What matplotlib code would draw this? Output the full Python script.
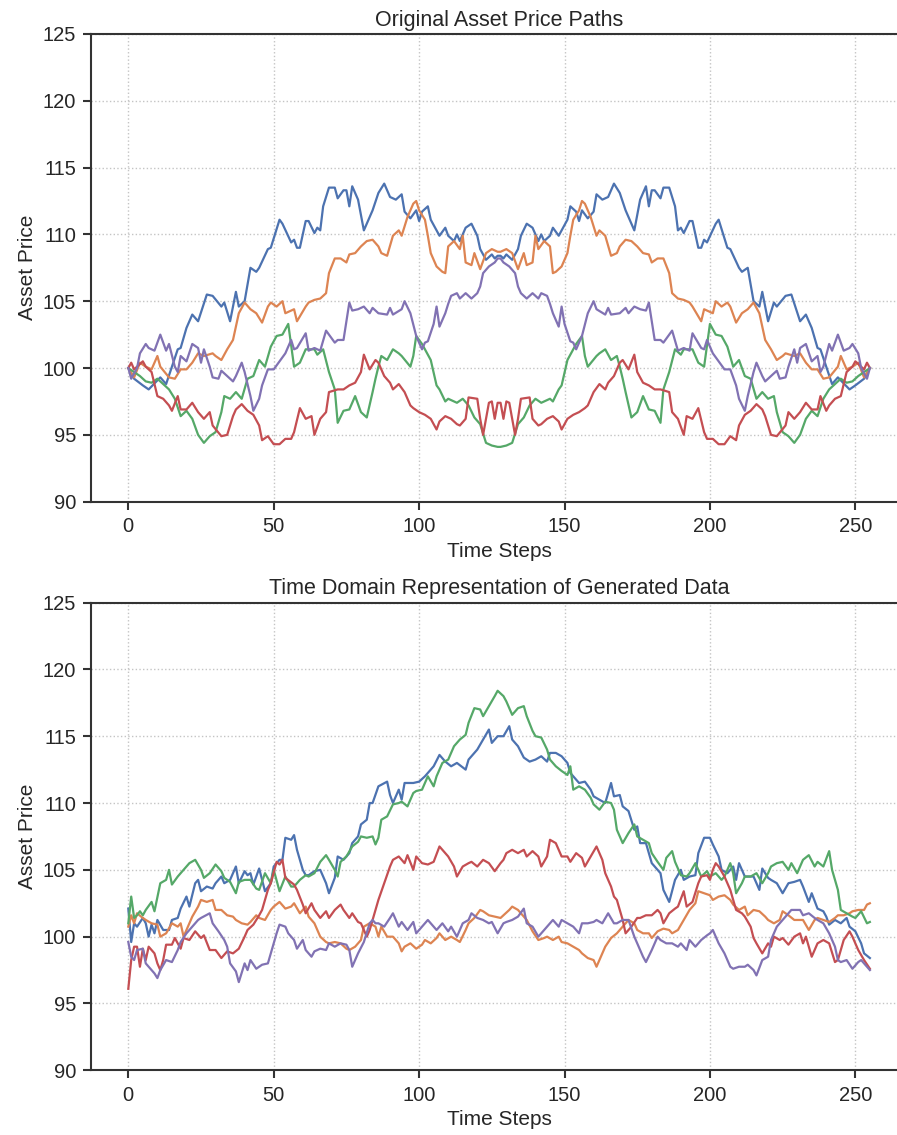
import numpy as np
import matplotlib.pyplot as plt

plt.rcParams['font.family'] = ['Liberation Sans', 'DejaVu Sans']

# original paths: (step, price) for steps 0..127, the second half is the same path run backwards
orig_blue_half = [(0, 100), (2, 99.2), (5, 98.7), (7, 98.4), (11, 99.3), (13, 98.8), (17, 101.4), (18, 101.5), (20, 103),
                  (22, 104), (24, 103.5), (27, 105.5), (29, 105.4), (32, 104.6), (33, 104.9), (35, 103.5), (37, 105.7),
                  (38, 104.6), (40, 105), (42, 107.5), (44, 107.2), (45, 107.5), (48, 108.9), (49, 109), (52, 111.1),
                  (53, 110.8), (56, 109.4), (57, 109.6), (58, 109), (59, 109), (61, 111), (62, 111), (64, 110.1),
                  (65, 110.5), (66, 110.3), (67, 112.1), (69, 113.5), (71, 113.5), (72, 112.7), (74, 113.3), (75, 113.3),
                  (76, 112.1), (77, 113.6), (79, 112.6), (81, 110.3), (83, 111.3), (84, 111.8), (86, 113.1), (88, 113.8),
                  (90, 112.8), (92, 112.6), (94, 113), (95, 111.7), (97, 111.2), (99, 111.8), (100, 111), (101, 111.7),
                  (103, 112.1), (104, 111.1), (105, 110.7), (107, 109.9), (109, 110.5), (110, 109.9), (112, 109.5),
                  (113, 110), (114, 109.5), (116, 110.5), (118, 110.8), (120, 109.9), (121, 108.9), (123, 108.1),
                  (125, 108.5), (126, 108.2), (127, 108.4)]
orig_orange_half = [(0, 100), (2, 99.3), (4, 100.4), (6, 100.1), (8, 99.9), (10, 100.9), (11, 100.1), (14, 99.3), (16, 99.2),
                    (18, 99.9), (20, 99.9), (22, 100.4), (24, 101.1), (26, 100.9), (29, 101.1), (30, 100.9), (32, 100.6),
                    (34, 101.4), (36, 102.1), (38, 104.1), (40, 104.9), (42, 104.4), (44, 104.1), (46, 103.4), (48, 104.6),
                    (49, 104.9), (51, 104.6), (53, 105), (54, 104.1), (57, 104.4), (58, 103.5), (61, 104.6), (62, 104.9),
                    (64, 105.1), (66, 105.2), (68, 105.6), (69, 107.1), (71, 108.2), (73, 108.2), (75, 107.9), (76, 108.5),
                    (78, 108.6), (80, 109.1), (82, 109.5), (84, 109.6), (86, 109.1), (87, 108.6), (89, 108.4), (91, 109.9),
                    (93, 110.3), (94, 109.9), (96, 111.3), (98, 112.3), (99, 112.5), (100, 111.8), (102, 111.1), (103, 109.9),
                    (104, 108.6), (106, 107.6), (108, 107.2), (109, 107.1), (110, 109.1), (112, 109.5), (114, 108.9),
                    (115, 109.9), (116, 107.9), (118, 107.7), (119, 108.6), (121, 107.4), (123, 108.6), (125, 108.9),
                    (127, 108.7)]
orig_green_half = [(0, 100), (2, 99.7), (4, 99.4), (6, 99), (8, 98.9), (10, 99.2), (12, 98.8), (14, 98.4), (16, 97.7),
                   (18, 96.4), (20, 96.8), (22, 96.2), (24, 95), (26, 94.4), (28, 94.9), (30, 95.2), (32, 96.7), (33, 97.9),
                   (35, 97.7), (37, 98.2), (39, 97.7), (41, 99.2), (43, 99.4), (45, 100.6), (47, 100.1), (49, 101.6),
                   (51, 102.4), (53, 102.5), (55, 103.3), (57, 100.1), (59, 100.4), (61, 101.4), (64, 101.4), (65, 101),
                   (67, 101.4), (69, 99.7), (71, 98.4), (72, 95.9), (74, 96.8), (76, 96.9), (78, 97.9), (80, 96.7),
                   (82, 96.3), (84, 98.2), (85, 99.2), (86, 100.1), (87, 100.9), (89, 100.6), (91, 101.4), (93, 101.1),
                   (94, 100.9), (97, 100.1), (98, 100.9), (99, 102.4), (101, 101.8), (102, 101.4), (104, 100.6),
                   (106, 98.7), (107, 98.4), (109, 97.5), (110, 97.7), (113, 97.4), (115, 97.7), (117, 97.2), (119, 96.3),
                   (121, 95.8), (123, 94.4), (125, 94.2), (127, 94.1)]
orig_red_half = [(0, 100), (1, 100.4), (2, 99.9), (5, 100.5), (6, 100.1), (8, 99.7), (10, 97.9), (12, 97.7), (14, 97.2),
                 (15, 96.8), (17, 97.9), (18, 96.9), (20, 96.9), (22, 97.4), (24, 96.7), (26, 96.2), (28, 96.7), (29, 95.7),
                 (32, 94.9), (34, 95), (36, 96.4), (37, 96.9), (39, 97.3), (41, 96.8), (43, 96.5), (45, 95.7), (46, 94.6),
                 (48, 94.9), (50, 94.3), (52, 94.3), (54, 94.7), (56, 94.7), (57, 95.2), (59, 97), (61, 96.2), (63, 96.4),
                 (64, 95), (66, 96.2), (68, 96.7), (69, 98.2), (72, 98.4), (74, 98.4), (76, 98.7), (78, 98.9), (80, 99.7),
                 (81, 101), (83, 99.9), (85, 100.6), (86, 100.4), (88, 99.4), (90, 98.9), (91, 98.4), (93, 98.8),
                 (95, 98.2), (97, 97.2), (98, 97), (100, 96.7), (102, 96.5), (104, 96.2), (106, 95.4), (107, 96),
                 (109, 96.4), (111, 96.2), (113, 95.8), (114, 95.7), (116, 96.2), (117, 97.8), (120, 97.7), (121, 96.2),
                 (122, 95), (124, 97.4), (125, 97.5), (126, 96.2), (127, 97.4)]
orig_purple_half = [(0, 100), (1, 99.2), (3, 100), (4, 101.1), (6, 101.8), (7, 101.5), (9, 101.3), (11, 102.5), (13, 101.3),
                    (14, 101.8), (16, 100.1), (17, 99.7), (18, 100.9), (20, 100.5), (22, 101.8), (24, 101.5), (25, 100.4),
                    (26, 101.4), (28, 100.1), (29, 99.3), (31, 99.2), (32, 99.8), (34, 99.4), (36, 99), (37, 99.4),
                    (39, 100.4), (40, 99.7), (42, 97.9), (43, 96.8), (45, 97.7), (46, 98.7), (48, 99.9), (50, 99.9),
                    (52, 100.5), (54, 101.1), (56, 102.1), (57, 101.4), (58, 101.5), (61, 102.6), (62, 101.3), (64, 101.5),
                    (66, 101.3), (68, 102.8), (71, 101.9), (72, 102.1), (74, 102.1), (76, 104.9), (77, 104.3), (79, 104.4),
                    (81, 104.6), (83, 104.1), (84, 104.5), (86, 104.1), (89, 104), (90, 104.5), (91, 104), (94, 104.4),
                    (95, 105), (97, 104.1), (99, 102.4), (101, 101.4), (102, 101.9), (103, 102), (105, 103.3), (106, 104.6),
                    (107, 103.1), (109, 104.1), (110, 104.8), (111, 105.4), (113, 105.6), (114, 105.2), (116, 105.6),
                    (118, 105.2), (120, 105.6), (121, 106.1), (122, 107.1), (124, 107.6), (126, 107.9), (127, 108.2)]

# generated series: (step, price)
gen_blue = [(0, 102.1), (1, 99.6), (2, 101), (3, 100.75), (5, 101.4), (6, 101), (7, 100), (8, 100.9), (9, 100.25),
            (10, 101.25), (12, 100.5), (14, 100.5), (15, 101.25), (17, 101.4), (18, 102.1), (20, 103), (21, 102.25),
            (23, 104), (24, 104.25), (25, 103.4), (27, 103.75), (29, 103.6), (30, 104), (32, 104.5), (33, 104),
            (35, 104.25), (37, 105.25), (38, 104), (40, 104.9), (41, 104.6), (42, 104.75), (43, 103.9), (45, 105.1),
            (46, 104.25), (47, 103.4), (49, 104), (50, 105.25), (52, 105.75), (53, 105.75), (54, 107.4), (56, 107.25),
            (57, 107.6), (58, 106.5), (60, 105), (61, 104.6), (62, 104.6), (64, 104.9), (66, 105), (68, 104),
            (69, 103.25), (71, 104.4), (72, 106), (74, 105.75), (76, 106.25), (77, 107), (79, 107.5), (80, 108.4),
            (82, 108.75), (83, 110), (84, 110), (86, 111.25), (89, 111.6), (90, 110.6), (91, 110), (93, 111),
            (94, 110.25), (95, 111.5), (98, 111.5), (100, 111.6), (102, 112), (105, 112.75), (107, 113.6), (109, 113.1),
            (111, 112.75), (113, 113), (116, 112.5), (117, 113.25), (120, 114), (122, 114.75), (124, 115.5), (125, 114.5),
            (127, 115), (129, 115), (131, 115.75), (132, 114.75), (134, 114.25), (136, 113.4), (138, 113.1),
            (140, 113.25), (142, 113.5), (144, 113.1), (145, 113.75), (147, 113.75), (149, 113.5), (151, 113),
            (152, 112.25), (154, 111.75), (155, 111.5), (157, 111.6), (159, 111), (160, 110.5), (162, 110.25),
            (164, 110), (166, 111.5), (167, 110.5), (169, 110.6), (170, 109.75), (172, 109.4), (174, 108), (175, 108.25),
            (176, 107), (178, 107), (180, 105.5), (182, 105), (183, 104.75), (184, 103.5), (186, 102.6), (188, 104.25),
            (190, 105), (191, 104.25), (193, 104.5), (195, 104.6), (196, 106.25), (198, 107.4), (200, 107.4),
            (201, 106.9), (203, 106), (204, 105), (206, 104.75), (208, 105.25), (209, 104.25), (210, 105.5),
            (212, 104.5), (213, 104.5), (215, 104.5), (217, 103.5), (218, 105.1), (220, 104.4), (221, 104.25),
            (223, 104), (225, 103.25), (227, 104), (229, 104.1), (231, 104.25), (232, 103.75), (234, 102.6),
            (235, 103.25), (237, 102.1), (239, 101.9), (240, 101.5), (241, 100.9), (243, 101.25), (245, 101),
            (247, 101.4), (248, 100.75), (250, 100.4), (252, 99.5), (253, 98.75), (255, 98.4)]
gen_orange = [(0, 100.75), (1, 101.6), (2, 101), (3, 101.75), (5, 101.4), (6, 101.25), (8, 101), (10, 100.9), (11, 100),
              (13, 100.25), (15, 101), (17, 100.75), (18, 101), (19, 100), (20, 100.5), (22, 101.5), (24, 102.25),
              (25, 102.75), (27, 102.6), (29, 102.75), (30, 102), (32, 102), (34, 101.6), (36, 101.5), (37, 101.25),
              (39, 101), (41, 100.9), (42, 101.1), (44, 101.6), (45, 101.4), (47, 101.25), (49, 102), (50, 102.25),
              (52, 102.6), (54, 102.1), (56, 102.25), (57, 102.5), (59, 101.75), (61, 102.25), (62, 101.5), (64, 101),
              (66, 100), (68, 99.6), (69, 99.5), (71, 99.6), (73, 99.5), (75, 99.1), (76, 99), (78, 99.25), (80, 99.75),
              (81, 100.75), (83, 101), (85, 100.75), (86, 100), (87, 100.75), (89, 100), (91, 100), (93, 99.5),
              (94, 98.9), (95, 99.25), (97, 99.5), (99, 99.1), (101, 99.4), (102, 99.75), (104, 99.5), (106, 99.9),
              (107, 100.25), (109, 99.75), (111, 100), (113, 99.75), (114, 99.6), (116, 100.5), (117, 101), (119, 101.4),
              (121, 102), (122, 101.9), (124, 101.6), (126, 101.5), (128, 101.4), (129, 101.6), (131, 102), (132, 102.25),
              (134, 102), (136, 101.5), (137, 101.25), (139, 100.4), (141, 99.75), (143, 99.9), (144, 100), (146, 99.75),
              (148, 100), (149, 99.6), (151, 99.5), (153, 99.25), (155, 99), (156, 98.75), (158, 98.4), (160, 98.25),
              (161, 97.75), (163, 98.75), (164, 99.25), (166, 99.9), (168, 100.25), (169, 100.5), (171, 101),
              (172, 101.25), (174, 101), (175, 100.5), (177, 100.25), (179, 100.25), (180, 99.9), (182, 100.4),
              (184, 100.6), (186, 100.5), (187, 100.25), (189, 100.5), (191, 101.25), (193, 102), (195, 102.5),
              (196, 103.4), (198, 103.25), (200, 103.1), (201, 102.75), (203, 103), (205, 103.1), (207, 102.75),
              (208, 102.4), (210, 102), (212, 102.25), (213, 101.6), (215, 102), (217, 101.9), (219, 101.5),
              (220, 101.25), (222, 101), (224, 101.25), (225, 101.9), (227, 101.6), (229, 101.25), (231, 101.25),
              (232, 101.25), (234, 100.5), (236, 101.25), (237, 101.4), (239, 101.25), (241, 101.1), (243, 101.4),
              (244, 101.6), (246, 101.6), (248, 101.75), (249, 101.9), (251, 102), (253, 102), (254, 102.4), (255, 102.5)]
gen_green = [(0, 101), (1, 103), (2, 101.4), (3, 101.6), (4, 101.9), (5, 101.6), (6, 102), (8, 102.6), (9, 101.9),
             (11, 104), (13, 104.25), (14, 105), (15, 103.9), (17, 104.5), (19, 105), (21, 105.5), (23, 105.75),
             (25, 105), (26, 104.4), (28, 104.75), (30, 105.4), (32, 104.9), (33, 104.4), (35, 104.1), (37, 103.25),
             (38, 104.1), (40, 104.25), (42, 104.25), (44, 103.6), (45, 103.5), (47, 104.75), (49, 104), (50, 105),
             (52, 103.4), (54, 104.5), (56, 103.75), (57, 103.75), (59, 104.25), (61, 104.6), (62, 104.5), (64, 104.75),
             (66, 105.6), (68, 106.1), (69, 105.75), (71, 105), (72, 104.5), (73, 105.6), (75, 106), (77, 106.75),
             (79, 107.1), (80, 107.5), (82, 107.4), (84, 107.5), (85, 106.9), (86, 107.4), (87, 108.75), (89, 109),
             (91, 109.9), (93, 110), (94, 110.1), (96, 109.75), (98, 110.75), (99, 110.9), (101, 111), (103, 112),
             (105, 111.25), (106, 112), (108, 113), (110, 113.25), (112, 114.25), (114, 114.75), (116, 115.1),
             (117, 116), (119, 117.1), (121, 117), (122, 116.5), (124, 117.25), (126, 118), (127, 118.4), (129, 118),
             (130, 117.6), (132, 116.6), (134, 117.1), (136, 117.25), (137, 116.5), (139, 115.4), (140, 115),
             (142, 114.9), (144, 114), (145, 113.25), (147, 112.75), (149, 112.4), (151, 112.1), (152, 112.75),
             (153, 111), (155, 111.25), (157, 111), (159, 110.4), (160, 109.9), (162, 109.5), (164, 110.1), (166, 110),
             (167, 109.5), (168, 108), (170, 107), (172, 107.75), (174, 108.4), (175, 107.5), (177, 107.25), (179, 107),
             (180, 106.25), (182, 105.6), (184, 105), (185, 105.9), (187, 106.4), (188, 105.6), (190, 104.6),
             (192, 104.5), (193, 104.75), (195, 105.5), (197, 104.5), (199, 104.9), (200, 104.5), (202, 104.75),
             (204, 104.25), (205, 104.5), (207, 105.5), (208, 104.75), (209, 103.25), (211, 104), (212, 104.5),
             (214, 104.5), (216, 104.75), (218, 104), (220, 104.75), (221, 105.25), (223, 105.5), (225, 105.6),
             (227, 105), (228, 105.5), (230, 104.75), (232, 105.75), (234, 106.1), (236, 105.25), (237, 105.6),
             (239, 105.25), (241, 106.4), (242, 105), (244, 103.5), (245, 102), (247, 101.75), (249, 101.5),
             (250, 101.4), (252, 101.9), (254, 101), (255, 101.1)]
gen_red = [(0, 96.1), (1, 98.25), (2, 99.25), (3, 99.25), (4, 97.75), (5, 99.1), (6, 98.25), (7, 99.25), (9, 98.75),
           (10, 98), (11, 97.5), (12, 98.25), (13, 99.4), (15, 99.4), (16, 99.9), (18, 99.1), (19, 99.9), (21, 99.75),
           (23, 100.4), (25, 99.9), (26, 100.1), (28, 99), (30, 99), (32, 98.4), (34, 98.9), (36, 98.75), (38, 99.1),
           (40, 100), (41, 100.5), (43, 100.9), (45, 101.6), (46, 102), (48, 103.5), (49, 104), (51, 105.6),
           (52, 105.4), (53, 105.75), (54, 104.4), (57, 103.9), (58, 103.5), (60, 102.4), (61, 101.75), (63, 102.5),
           (64, 102), (66, 101.4), (68, 101.9), (69, 101.4), (71, 102), (73, 102.4), (74, 102), (76, 101.4),
           (77, 101.75), (79, 101.1), (80, 101), (82, 100), (83, 100.5), (85, 102), (86, 102.75), (88, 104),
           (90, 105.25), (91, 105.75), (93, 106), (95, 105.5), (96, 106.1), (98, 105), (99, 106), (101, 105.5),
           (103, 105.4), (105, 105.6), (107, 106.75), (109, 106.25), (110, 106), (112, 105.25), (113, 104.5),
           (115, 105.25), (117, 105.5), (118, 105.6), (120, 105.25), (122, 105.75), (124, 105.5), (126, 104.9),
           (128, 105.5), (129, 105.75), (130, 106.25), (132, 106.5), (134, 106.25), (136, 106.5), (137, 106),
           (139, 106.4), (141, 106), (142, 105.25), (144, 106), (145, 107.25), (147, 107), (149, 106), (151, 106),
           (152, 105.6), (154, 106.25), (156, 105.9), (157, 105.25), (159, 106), (161, 106.75), (163, 105.75),
           (164, 104.75), (166, 103.75), (167, 103), (168, 102.75), (170, 101.25), (171, 100.25), (173, 100.75),
           (175, 101.4), (176, 101.4), (178, 101.6), (180, 101.6), (182, 102), (183, 101.75), (184, 101),
           (186, 101.75), (188, 102.1), (189, 102.25), (191, 103.4), (192, 102.25), (194, 102.6), (196, 104),
           (197, 104.5), (199, 104.6), (200, 104.25), (201, 105), (202, 105.5), (203, 105.25), (205, 104.5),
           (207, 103.5), (208, 102.75), (209, 102), (211, 101.75), (212, 101.5), (214, 100.75), (215, 99.9),
           (216, 99.5), (218, 98.75), (220, 99.5), (221, 99.25), (222, 100), (224, 99.75), (225, 99.9), (227, 99.4),
           (229, 100), (231, 100.25), (232, 99.5), (233, 100), (235, 98.5), (237, 99.5), (239, 99.75), (241, 99.5),
           (243, 98.1), (244, 98.25), (246, 99.75), (248, 100.4), (249, 100), (251, 99), (253, 98.25), (255, 97.6)]
gen_purple = [(0, 99.6), (1, 98.5), (2, 98.25), (3, 99), (5, 99.1), (6, 98), (7, 97.75), (9, 97.25), (10, 96.9),
              (11, 97.5), (13, 98.25), (15, 98.1), (17, 99), (18, 99.6), (20, 100.25), (22, 100.75), (24, 101.25),
              (25, 101.4), (28, 101.75), (29, 101), (31, 100.4), (33, 99.75), (34, 99.25), (35, 98), (37, 97.4),
              (38, 96.6), (40, 98), (41, 97.5), (42, 98.25), (44, 97.6), (46, 97.9), (48, 98), (49, 98.75),
              (51, 100.25), (52, 100.9), (54, 100.75), (55, 100.25), (57, 99.75), (58, 99.1), (60, 99.75), (61, 99),
              (63, 98.5), (64, 98.9), (66, 99.1), (68, 99), (69, 99.5), (71, 99.25), (73, 99.5), (75, 99.4), (76, 99),
              (77, 97.75), (79, 98.75), (81, 99.6), (83, 101), (84, 101.25), (85, 101), (86, 101), (88, 100.75),
              (90, 101.4), (91, 101.75), (93, 100.75), (94, 101.1), (96, 100.5), (98, 101.1), (99, 100.25),
              (101, 100.75), (103, 101.25), (105, 100.75), (106, 100.5), (108, 101), (110, 100.4), (111, 100.75),
              (113, 100), (115, 101), (117, 101.25), (118, 101.75), (120, 101.4), (122, 101.25), (124, 101),
              (125, 101.1), (127, 100.25), (129, 101), (130, 101.1), (132, 101.25), (134, 101.5), (136, 102.1),
              (137, 101), (139, 100.75), (141, 100), (143, 100.5), (144, 100.75), (146, 101.25), (148, 100.75),
              (149, 101.25), (151, 101), (153, 100.75), (155, 100.25), (156, 101), (158, 101), (160, 101.1),
              (161, 101.25), (163, 101), (165, 101.75), (167, 101), (168, 101), (170, 101.25), (172, 101.25),
              (174, 100), (175, 99.5), (177, 98.5), (178, 98.1), (180, 99), (182, 100), (183, 99.75), (185, 99.5),
              (187, 99.5), (189, 99.25), (190, 99.5), (192, 99), (193, 99.75), (195, 99.25), (197, 99.75),
              (199, 100.1), (200, 100.25), (201, 100.5), (203, 99.5), (205, 98.75), (207, 97.75), (208, 97.6),
              (210, 97.75), (212, 97.75), (213, 97.9), (215, 97.5), (216, 97.1), (218, 98.25), (220, 98.5),
              (221, 99.75), (223, 100.75), (225, 101.25), (227, 101.75), (228, 102), (231, 102), (232, 101.6),
              (234, 101.75), (236, 101.4), (237, 101.25), (239, 101), (241, 100.25), (243, 99.25), (244, 98.25),
              (245, 98.1), (247, 98.25), (249, 97.6), (251, 98.1), (252, 98.25), (253, 98), (255, 97.5)]

colors = ['#4C72B0', '#DD8452', '#55A868', '#C44E52', '#8172B3']
ink = '#262626'


def mirrored(half):
    # path followed by its time-reversed copy (steps 128..255)
    return half + [(255 - s, v) for s, v in reversed(half)]


orig_paths = [mirrored(h) for h in [orig_blue_half, orig_orange_half, orig_green_half, orig_red_half, orig_purple_half]]
gen_paths = [gen_blue, gen_orange, gen_green, gen_red, gen_purple]

fig = plt.figure(figsize=(8.97, 11.35), dpi=100)
ax1 = fig.add_axes([0.1017, 0.5580, 0.9094, 0.4121])
ax2 = fig.add_axes([0.1017, 0.0570, 0.9094, 0.4121])

panels = [
    (ax1, orig_paths, 'Original Asset Price Paths'),
    (ax2, gen_paths, 'Time Domain Representation of Generated Data'),
]

for ax, paths, title in panels:
    for pts, c in zip(paths, colors):
        steps, vals = zip(*pts)
        ax.plot(steps, vals, color=c, lw=1.6)
    ax.set_xlim(-12.75, 267.75)
    ax.set_ylim(90, 125)
    ax.set_xticks(np.arange(0, 251, 50))
    ax.set_yticks(np.arange(90, 126, 5))
    ax.set_axisbelow(True)
    ax.grid(True, linestyle=':', color='#c4c4c4', linewidth=1.0)
    for sp in ax.spines.values():
        sp.set_color('#333333')
        sp.set_linewidth(1.5)
    ax.tick_params(direction='out', length=6, width=1.5, color='#333333',
                   labelsize=14.5, labelcolor=ink, pad=5)
    ax.set_xlabel('Time Steps', fontsize=15, color=ink)
    ax.set_ylabel('Asset Price', fontsize=15, color=ink)
    ax.set_title(title, fontsize=15.5, color=ink)

fig.savefig('out.png', dpi=100)
